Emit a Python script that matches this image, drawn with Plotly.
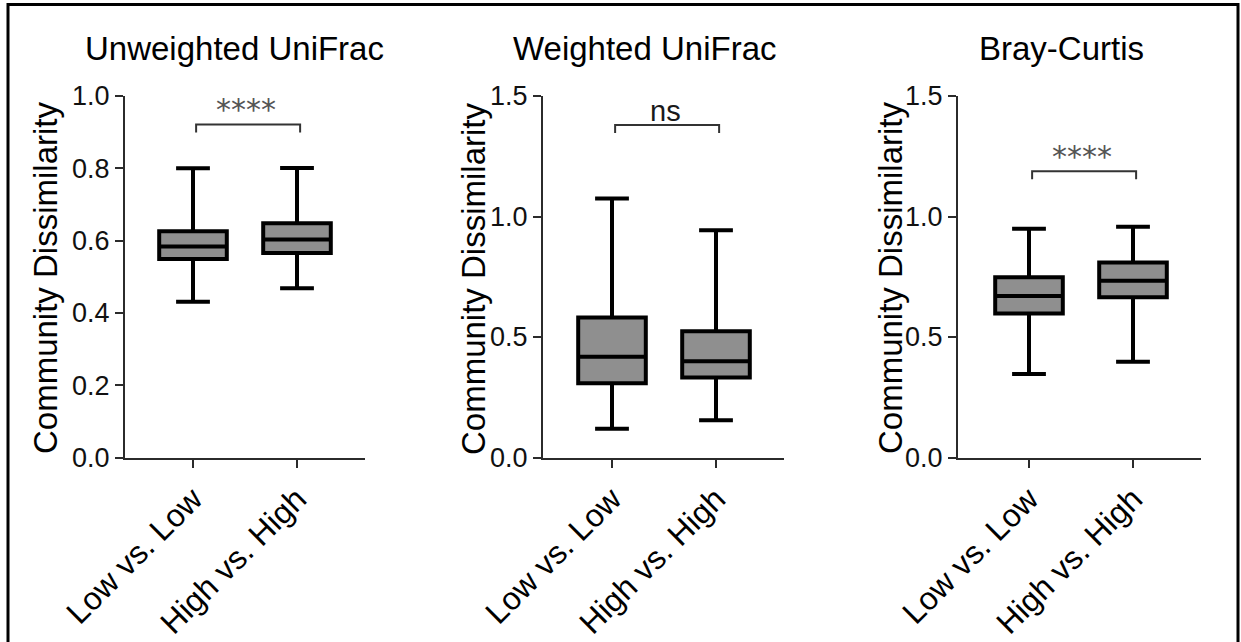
import plotly.graph_objects as go

# ---------------- data ----------------
categories = ["Low vs. Low", "High vs. High"]
panel_titles = ["Unweighted UniFrac", "Weighted UniFrac", "Bray-Curtis"]
y_title = "Community Dissimilarity"

unw_min = [0.431, 0.468]
unw_q1 = [0.549, 0.566]
unw_med = [0.584, 0.603]
unw_q3 = [0.626, 0.648]
unw_max = [0.800, 0.801]

wu_min = [0.119, 0.155]
wu_q1 = [0.308, 0.332]
wu_med = [0.418, 0.399]
wu_q3 = [0.581, 0.524]
wu_max = [1.075, 0.943]

bc_min = [0.346, 0.397]
bc_q1 = [0.597, 0.665]
bc_med = [0.670, 0.733]
bc_q3 = [0.748, 0.809]
bc_max = [0.949, 0.957]

sig_labels = ["****", "ns", "****"]
sig_y = [0.921, 1.380, 1.188]
y_max = [1.0, 1.5, 1.5]
y_dtick = [0.2, 0.5, 0.5]

# ---------------- layout geometry (pixels) ----------------
W, H = 1241, 642
x_dom_px = [(125, 365), (543, 784), (958, 1201)]
x_cat_px = [(193, 297), (612, 716), (1029, 1133)]
y_top_px, y_bot_px = 96, 457.5
title_cx_px = [234, 645, 1061]
ytitle_cx_px = [46, 474, 891]

FONT = "Arial, Liberation Sans, sans-serif"
AX_COL = "#2b2b2b"

stats = [
    (unw_min, unw_q1, unw_med, unw_q3, unw_max),
    (wu_min, wu_q1, wu_med, wu_q3, wu_max),
    (bc_min, bc_q1, bc_med, bc_q3, bc_max),
]

fig = go.Figure()
layout = dict(
    width=W, height=H, autosize=False,
    margin=dict(l=0, r=0, t=0, b=0, pad=0, autoexpand=False),
    paper_bgcolor="white", plot_bgcolor="white",
    showlegend=False,
    font=dict(family=FONT, color="black"),
)
shapes = []
annotations = []

idx = list(range(len(categories)))
plot_h = y_bot_px - y_top_px

for i, (lo, q1, med, q3, hi) in enumerate(stats):
    n = "" if i == 0 else str(i + 1)
    xa, ya = "x" + n, "y" + n
    fig.add_trace(go.Box(
        x=idx, q1=q1, median=med, q3=q3, lowerfence=lo, upperfence=hi,
        xaxis=xa, yaxis=ya,
        fillcolor="#8f8f8f", line=dict(color="black", width=4),
        whiskerwidth=0.5, width=0.65, boxpoints=False, hoverinfo="skip",
    ))
    d0, d1 = x_dom_px[i]
    c0, c1 = x_cat_px[i]
    ppu = (c1 - c0)
    xr = [-(c0 - d0) / ppu, 1 + (d1 - c1) / ppu]
    layout["xaxis" + n] = dict(
        domain=[d0 / W, d1 / W], range=xr, anchor=ya, automargin=False,
        tickmode="array", tickvals=idx, ticktext=categories,
        tickangle=-45, ticks="outside", ticklen=8, tickwidth=2, tickcolor=AX_COL,
        showline=True, linecolor=AX_COL, linewidth=2,
        showgrid=False, zeroline=False,
        tickfont=dict(size=32, color="black", family=FONT),
    )
    layout["yaxis" + n] = dict(
        domain=[1 - y_bot_px / H, 1 - y_top_px / H], range=[0, y_max[i]], anchor=xa,
        automargin=False,
        tickmode="linear", tick0=0, dtick=y_dtick[i], tickformat=".1f",
        ticks="outside", ticklen=8, tickwidth=2, tickcolor=AX_COL,
        showline=True, linecolor=AX_COL, linewidth=2,
        showgrid=False, zeroline=False,
        tickfont=dict(size=27, color="#111111", family=FONT),
    )
    # significance bracket
    drop = 8 / plot_h * y_max[i]
    yb = sig_y[i]
    xl, xr_ = 0.03, 1.03
    shapes.append(dict(
        type="path", xref=xa, yref=ya,
        path=f"M {xl},{yb - drop} L {xl},{yb} L {xr_},{yb} L {xr_},{yb - drop}",
        line=dict(color="#333333", width=2),
    ))
    is_star = sig_labels[i].startswith("*")
    annotations.append(dict(
        x=0.51, y=yb + (15 if is_star else 14) / plot_h * y_max[i],
        xref=xa, yref=ya,
        text=sig_labels[i], showarrow=False, xanchor="center", yanchor="middle",
        font=dict(size=30 if is_star else 29,
                  family="DejaVu Sans" if is_star else FONT,
                  color="#555555" if is_star else "#1a1a1a"),
    ))
    # panel title
    annotations.append(dict(
        x=title_cx_px[i] / W, y=1 - 49 / H, xref="paper", yref="paper",
        text=panel_titles[i], showarrow=False, xanchor="center", yanchor="middle",
        font=dict(size=33, family=FONT, color="black"),
    ))
    # y-axis title
    annotations.append(dict(
        x=ytitle_cx_px[i] / W, y=1 - 278 / H, xref="paper", yref="paper",
        text=y_title, showarrow=False, xanchor="center", yanchor="middle",
        textangle=-90, font=dict(size=33, family=FONT, color="black"),
    ))

# outer frame
shapes.append(dict(
    type="rect", xref="paper", yref="paper",
    x0=8 / W, x1=1238 / W, y0=-0.02, y1=1 - 4.5 / H,
    line=dict(color="black", width=3), fillcolor="rgba(0,0,0,0)", layer="above",
))

layout["shapes"] = shapes
layout["annotations"] = annotations
fig.update_layout(**layout)
fig.write_html(
    "out.html",
    config={"displayModeBar": False},
    post_script="document.body.style.margin='0';document.body.style.padding='0';",
)
